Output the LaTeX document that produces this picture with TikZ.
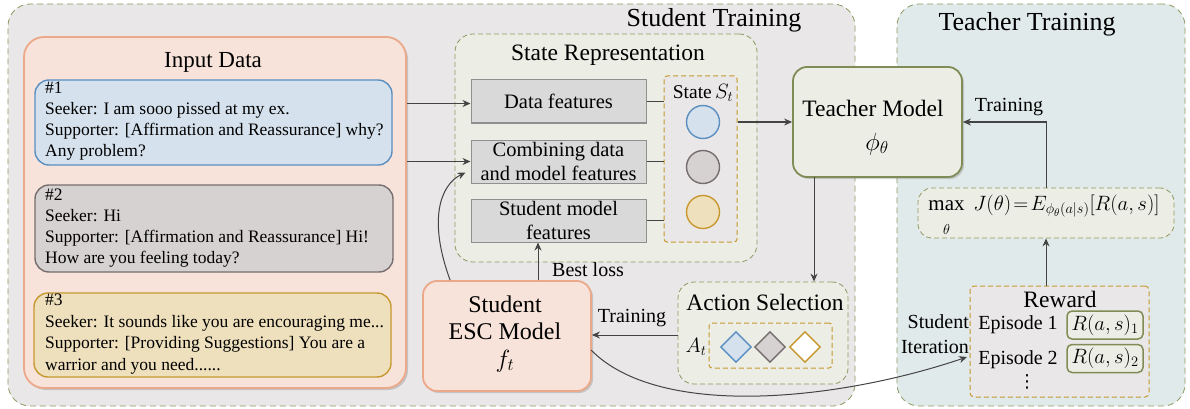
\documentclass[tikz,border=0pt]{standalone}
\usepackage{fontspec}
\setmainfont{Liberation Serif}
\newfontfamily\dotsfont{DejaVu Sans}
\usetikzlibrary{shadows,arrows.meta,shapes.geometric,calc}

\definecolor{bgGrey}{HTML}{E9E7E7}
\definecolor{bgTeal}{HTML}{E1EAEA}
\definecolor{oliveLine}{HTML}{8C9A62}
\definecolor{oliveDark}{HTML}{7F8C55}
\definecolor{peachFill}{HTML}{F7E3D9}
\definecolor{peachLine}{HTML}{EBA98A}
\definecolor{blueFill}{HTML}{D5E1EC}
\definecolor{blueLine}{HTML}{5B8FC2}
\definecolor{greyFill}{HTML}{D7D2D2}
\definecolor{greyLine}{HTML}{766E6E}
\definecolor{goldFill}{HTML}{EFE0BD}
\definecolor{goldLine}{HTML}{C6982F}
\definecolor{paleGreen}{HTML}{ECEDE4}
\definecolor{featFill}{HTML}{D9D9D9}
\definecolor{featLine}{HTML}{8F8F8F}
\definecolor{arrowCol}{HTML}{444444}

\tikzset{
  panel/.style={draw=oliveLine, dash pattern=on 6pt off 4pt, line width=0.8pt, rounded corners=22pt},
  groupbox/.style={draw=oliveLine, dash pattern=on 5pt off 3pt, line width=0.8pt, fill=paleGreen, rounded corners=18pt},
  goldgroup/.style={draw=goldLine, dash pattern=on 5pt off 3pt, line width=1pt, rounded corners=3pt},
  dialog/.style={line width=1.4pt, rounded corners=14pt},
  featbox/.style={draw=featLine, fill=featFill, line width=1pt, minimum width=175pt, minimum height=43pt, align=center, inner sep=0pt, font=\fontsize{20.5}{24}\selectfont},
  modelbox/.style={line width=1.8pt, rounded corners=14pt, align=center, drop shadow={shadow xshift=2pt, shadow yshift=-2pt, opacity=0.35}},
  token/.style={circle, line width=1.4pt, minimum size=33pt, inner sep=0pt},
  act/.style={diamond, line width=1.4pt, minimum size=31pt, inner sep=0pt},
  rbox/.style={draw=oliveDark, fill=paleGreen, line width=1.5pt, rounded corners=5pt, minimum width=76pt, minimum height=28pt, inner sep=0pt, font=\fontsize{20}{22}\selectfont},
  conn/.style={draw=arrowCol, line width=1pt},
  arr/.style={conn, -{Stealth[length=8pt, width=7pt]}},
  bigtitle/.style={font=\fontsize{26}{28}\selectfont},
  title/.style={font=\fontsize{23.5}{26}\selectfont},
  lbl/.style={font=\fontsize{20}{22}\selectfont},
  body/.style={font=\fontsize{17.5}{21}\selectfont, align=left, inner sep=0pt},
}

\begin{document}
\begin{tikzpicture}[x=1pt, y=-1pt]
\useasboundingbox (0,0) rectangle (1190,409);

% ---------- outer panels ----------
\node[panel, fill=bgGrey, minimum width=847pt, minimum height=402pt] (student) at (431.5,205) {};
\node[bigtitle] (studentTitle) at (714,20) {Student Training};
\node[panel, fill=bgTeal, minimum width=288pt, minimum height=402pt] (teacher) at (1041,205) {};
\node[bigtitle] (teacherTitle) at (1027,24) {Teacher Training};

% ---------- input data ----------
\node[modelbox, draw=peachLine, fill=peachFill, rounded corners=20pt, minimum width=382pt, minimum height=351pt] (input) at (215,212.5) {};
\node[font=\fontsize{23}{25}\selectfont] (inputTitle) at (213,62) {Input Data};

\node[dialog, draw=blueLine, fill=blueFill, minimum width=357pt, minimum height=85pt] (d1) at (213.5,122.5) {};
\node[body, anchor=north west] (t1) at (45,82) {\#1\\Seeker: I am sooo pissed at my ex.\\Supporter: [Affirmation and Reassurance] why?\\Any problem?};

\node[dialog, draw=greyLine, fill=greyFill, minimum width=358pt, minimum height=87pt] (d2) at (214,228.5) {};
\node[body, anchor=north west] (t2) at (45,189) {\#2\\Seeker: Hi\\Supporter: [Affirmation and Reassurance] Hi!\\How are you feeling today?};

\node[dialog, draw=goldLine, fill=goldFill, minimum width=357pt, minimum height=84pt] (d3) at (212.5,335) {};
\node[body, anchor=north west, font=\fontsize{17.5}{21.5}\selectfont] (t3) at (45,294) {\#3\\Seeker: It sounds like you are encouraging me...\\Supporter: [Providing Suggestions] You are a\\warrior and you need......};

% ---------- state representation ----------
\node[groupbox, minimum width=302pt, minimum height=228pt] (state) at (606,148) {};
\node[title] (stateTitle) at (608,55) {State Representation};

\node[featbox] (fdata) at (558.5,101.5) {Data features};
\node[featbox] (fcomb) at (558.5,161.5) {Combining data\\and model features};
\node[featbox] (fstud) at (558.5,220.5) {Student model\\features};

\node[goldgroup, fill=bgGrey, minimum width=73pt, minimum height=166pt] (stateSet) at (700.5,159) {};
\node[font=\fontsize{19.5}{21}\selectfont] (stateLabel) at (703,93) {State\,$S_t$};
\node[token, draw=blueLine, fill=blueFill] (c1) at (703,122) {};
\node[token, draw=greyLine, fill=greyFill] (c2) at (703,167) {};
\node[token, draw=goldLine, fill=goldFill] (c3) at (703,212) {};

\draw[conn] (fdata.east) -- (fdata.east -| stateSet.west);
\draw[conn] (fcomb.east) -- (fcomb.east -| stateSet.west);
\draw[conn] (fstud.east) -- (fstud.east -| stateSet.west);

% ---------- teacher model ----------
\node[modelbox, draw=oliveDark, fill=paleGreen, minimum width=169pt, minimum height=110pt] (tmodel) at (877.5,122) {};
\node[title] (tmodelName) at (873,108) {Teacher Model};
\node[font=\fontsize{23}{25}\selectfont] (tmodelSym) at (877,144) {$\phi_\theta$};

% ---------- action selection ----------
\node[groupbox, rounded corners=16pt, minimum width=170pt, minimum height=102pt] (action) at (763,333) {};
\node[title] (actionTitle) at (765,302) {Action Selection};
\node[goldgroup, minimum width=123pt, minimum height=45pt] (actSet) at (770.5,345.5) {};
\node[font=\fontsize{20}{22}\selectfont] (actLabel) at (696,347) {$A_t$};
\node[act, draw=blueLine, fill=blueFill] (a1) at (736,347) {};
\node[act, draw=greyLine, fill=greyFill] (a2) at (770,347) {};
\node[act, draw=goldLine, fill=white] (a3) at (805,347) {};

% ---------- student model ----------
\node[modelbox, draw=peachLine, fill=peachFill, minimum width=168pt, minimum height=110pt] (smodel) at (507,336) {};
\node[font=\fontsize{24}{27}\selectfont, align=center] (smodelName) at (505,318) {Student\\ESC Model};
\node[font=\fontsize{23}{25}\selectfont] (smodelSym) at (505,361) {$f_t$};

% ---------- objective and reward ----------
\node[groupbox, rounded corners=14pt, minimum width=256pt, minimum height=50pt] (objective) at (1046,213) {};
\node[font=\fontsize{21}{23}\selectfont] (objText) at (1044,215) {$\max\limits_{\rule{0pt}{1.05em}\theta}\ J(\theta)\!=\!E_{\phi_\theta(a|s)}[R(a,s)]$};

\node[goldgroup, fill=bgGrey, rounded corners=4pt, minimum width=179pt, minimum height=111pt] (reward) at (1059.5,341.5) {};
\node[title] (rewardTitle) at (1060,299) {Reward};
\node[lbl] (ep1) at (1018,325) {Episode 1};
\node[lbl] (ep2) at (1018,360) {Episode 2};
\node[font=\dotsfont\fontsize{18}{20}\selectfont] (epDots) at (1027,382) {⋮};
\node[rbox] (r1) at (1105,325) {$R(a,s)_1$};
\node[rbox] (r2) at (1105,358.5) {$R(a,s)_2$};

% ---------- connectors ----------
\draw[arr] (input.east |- fdata.west) ++(0,2) coordinate (inA) -- (inA -| fdata.west);
\draw[arr] (input.east |- fcomb.west) -- (fcomb.west);
\draw[arr] (smodel.north west) ++(28,0) coordinate (loopStart)
  .. controls (428,220) and (440,185) .. ($(fcomb.south west)+(-5,-11)$);
\draw[arr] (stateSet.east |- tmodel.west) -- (tmodel.west);
\draw[arr] (814,177) coordinate (tmBottom) -- (tmBottom |- action.north);
\draw[arr] (action.west |- 0,335) coordinate (acW) -- (acW -| smodel.east);
\node[lbl] (trainLabel) at (632,318) {Training};
\draw[arr] (smodel.north -| 538,0) coordinate (slTop) -- (slTop |- fstud.south);
\node[lbl] (bestLoss) at (588,270) {Best loss};
\draw[arr] (reward.north -| objective.south) coordinate (rwTop) -- (objective.south);
\draw[arr] (objective.north) -- (objective.north |- tmodel.east) -- (tmodel.east);
\node[lbl] (trainLabel2) at (1009,107) {Training};
\draw[arr] (591,350) .. controls (660,420) and (840,400) .. (967,357);
\node[font=\fontsize{20}{25}\selectfont, align=right, anchor=east, inner sep=0pt] (iterLabel) at (969,334) {Student\\Iteration};

\end{tikzpicture}
\end{document}
